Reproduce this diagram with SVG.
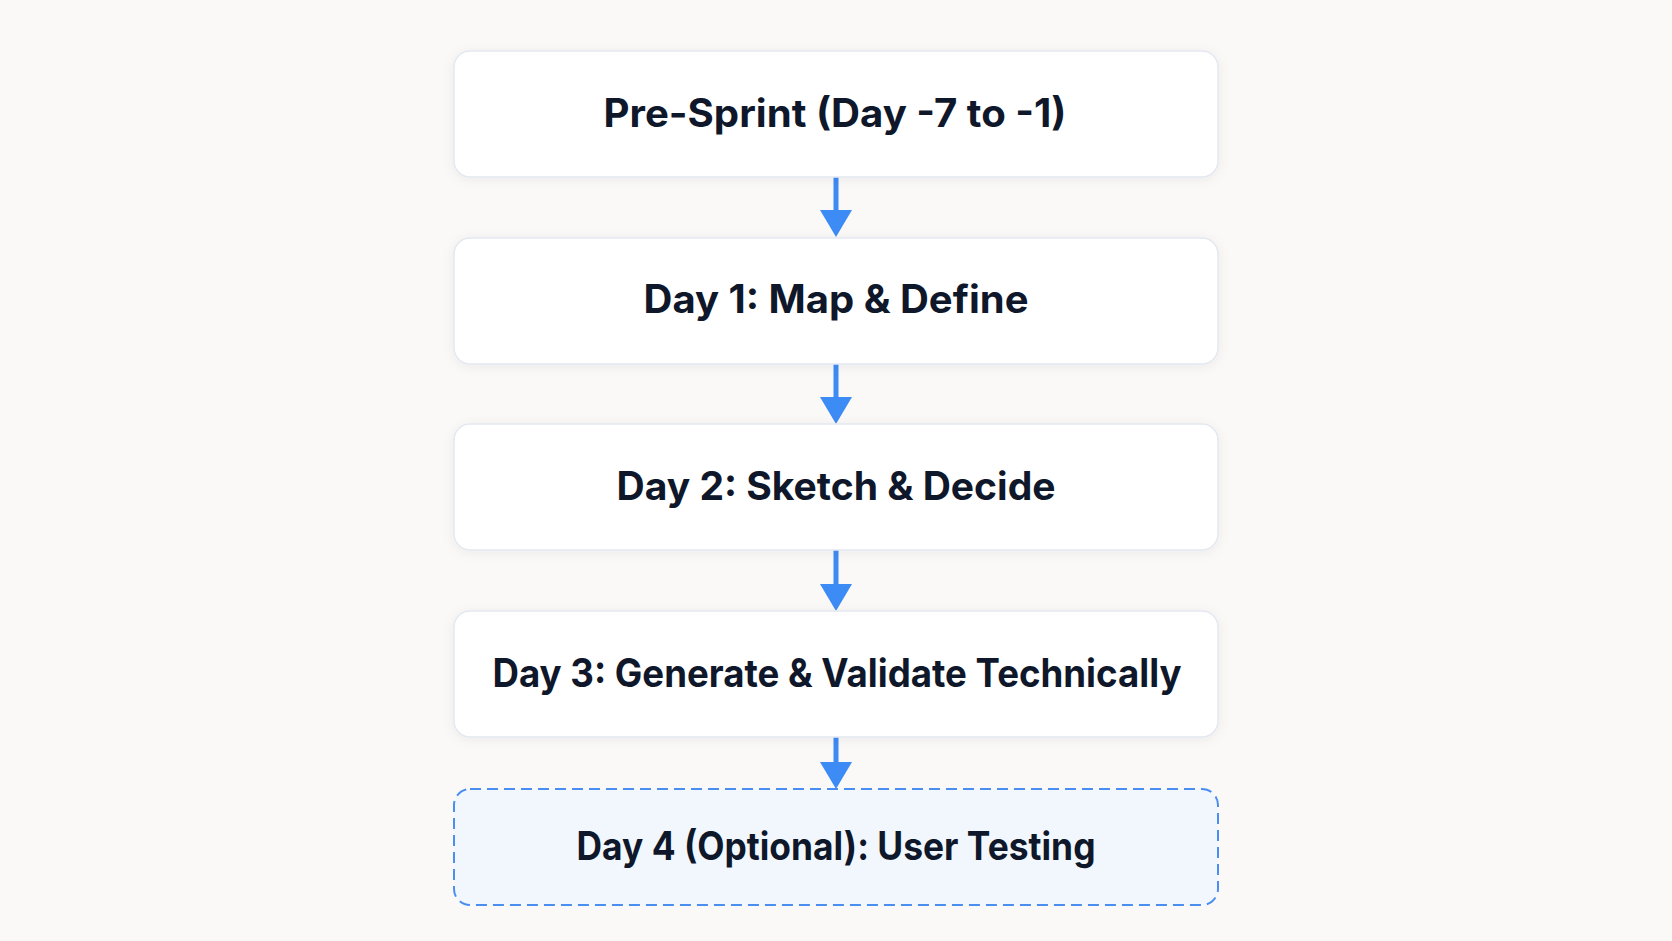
<svg xmlns="http://www.w3.org/2000/svg" width="1672" height="941" viewBox="0 0 1672 941">
<defs>
<style>
.box{fill:#ffffff;stroke:#e3e8f0;stroke-width:1.5;filter:url(#sh)}
.opt{fill:#f2f7fe;stroke:#4a8ff0;stroke-width:2;stroke-dasharray:11 6}
.lbl{font-family:Inter,"Open Sans","Liberation Sans",sans-serif;font-weight:700;font-size:39px;fill:#0f172a;text-anchor:middle}
.edge{stroke:#3d8bf5;stroke-width:5;fill:none}
.head{fill:#3d8bf5}
</style>
<filter id="sh" x="-10%" y="-30%" width="120%" height="160%">
<feDropShadow dx="0" dy="2" stdDeviation="6" flood-color="#1f2937" flood-opacity="0.06"/>
</filter>
</defs>
<rect width="1672" height="941" fill="#faf9f7"/>
<g id="connectors">
<line class="edge" x1="836" y1="177" x2="836" y2="212"/>
<polygon class="head" points="820,210 852,210 836,237"/>
<line class="edge" x1="836" y1="364" x2="836" y2="399"/>
<polygon class="head" points="820,397 852,397 836,424"/>
<line class="edge" x1="836" y1="550" x2="836" y2="586"/>
<polygon class="head" points="820,584 852,584 836,611"/>
<line class="edge" x1="836" y1="737" x2="836" y2="764"/>
<polygon class="head" points="820,762 852,762 836,789"/>
</g>
<g id="pre-sprint">
<rect class="box" x="454" y="51" width="764" height="126" rx="16"/>
<text class="lbl" x="835" y="127" textLength="463" lengthAdjust="spacingAndGlyphs">Pre-Sprint (Day -7 to -1)</text>
</g>
<g id="day1">
<rect class="box" x="454" y="238" width="764" height="126" rx="16"/>
<text class="lbl" x="836" y="313" textLength="385" lengthAdjust="spacingAndGlyphs">Day 1: Map &amp; Define</text>
</g>
<g id="day2">
<rect class="box" x="454" y="424" width="764" height="126" rx="16"/>
<text class="lbl" x="836" y="500" textLength="439" lengthAdjust="spacingAndGlyphs">Day 2: Sketch &amp; Decide</text>
</g>
<g id="day3">
<rect class="box" x="454" y="611" width="764" height="126" rx="16"/>
<text class="lbl" x="837" y="687" textLength="689" lengthAdjust="spacingAndGlyphs">Day 3: Generate &amp; Validate Technically</text>
</g>
<g id="day4">
<rect class="opt" x="454" y="789" width="764" height="116" rx="16"/>
<text class="lbl" x="836" y="860" textLength="519" lengthAdjust="spacingAndGlyphs">Day 4 (Optional): User Testing</text>
</g>
</svg>
